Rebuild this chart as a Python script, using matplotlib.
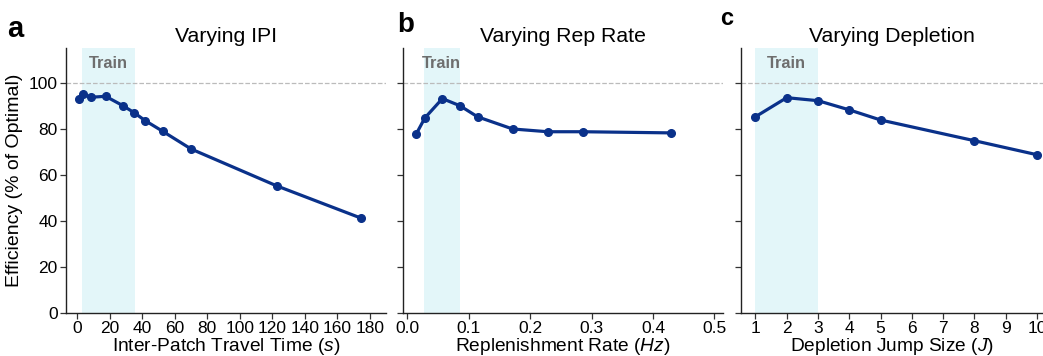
import matplotlib
matplotlib.use("Agg")
import matplotlib.pyplot as plt
import numpy as np

plt.rcParams['font.family'] = ['Liberation Sans', 'DejaVu Sans']
plt.rcParams['mathtext.fontset'] = 'custom'
plt.rcParams['mathtext.it'] = 'Liberation Sans:italic'

# panel a: inter-patch interval
ipi_x = [1.0, 3.3, 8.6, 17.4, 28.1, 34.9, 41.8, 52.5, 70.0, 122.6, 174.8]
ipi_y = [93.0, 95.0, 93.8, 94.2, 90.1, 87.1, 83.6, 79.0, 71.3, 55.3, 41.2]

# panel b: replenishment rate
rep_x = [0.0143, 0.0286, 0.0571, 0.0857, 0.1143, 0.1714, 0.2286, 0.2857, 0.4286]
rep_y = [77.7, 84.8, 93.2, 90.1, 85.3, 80.0, 78.8, 78.8, 78.3]

# panel c: depletion jump size
dep_x = [1, 2, 3, 4, 5, 8, 10]
dep_y = [85.3, 93.6, 92.3, 88.3, 83.9, 74.9, 68.8]

train_ranges = [(3.0, 35.3), (0.0266, 0.0858), (1.0, 3.0)]
titles = ["Varying IPI", "Varying Rep Rate", "Varying Depletion"]
xlabels = ["Inter-Patch Travel Time ($\\mathit{s}$)",
           "Replenishment Rate ($\\mathit{Hz}$)",
           "Depletion Jump Size ($\\mathit{J}$)"]
letters = ["a", "b", "c"]
xlims = [(-7, 190), (-0.007, 0.514), (0.54, 10.19)]
xticks = [np.arange(0, 181, 20), np.arange(0, 0.51, 0.1), np.arange(1, 11, 1)]
xticklabels = [[str(v) for v in range(0, 181, 20)],
               ["0.0", "0.1", "0.2", "0.3", "0.4", "0.5"],
               [str(v) for v in range(1, 11)]]

line_color = "#0a318a"
band_color = "#e3f6f9"

W, H = 1043, 356
fig = plt.figure(figsize=(W / 100, H / 100), dpi=100)
lefts = [66, 403, 741]
widths = [320, 320, 302]
bottom, top = 313, 48
# panel letter placement (pixels: left x, baseline y, size)
letter_pos = [(7, 37, 21), (397, 32, 20), (720, 25, 17)]

data = [(ipi_x, ipi_y), (rep_x, rep_y), (dep_x, dep_y)]
for i in range(3):
    ax = fig.add_axes([lefts[i] / W, (H - bottom) / H, widths[i] / W, (bottom - top) / H])
    lo, hi = train_ranges[i]
    ax.axvspan(lo, hi, color=band_color, lw=0, zorder=0)
    ax.axhline(100, color="#bbbbbb", ls="--", lw=0.9, zorder=1)
    x, y = data[i]
    ax.plot(x, y, color=line_color, lw=2.3, marker="o", ms=5.5, zorder=3)
    ax.text((lo + hi) / 2, 108.5, "Train", ha="center", va="center",
            fontsize=11.8, fontweight="bold", color="#6e6e6e")
    ax.set_xlim(*xlims[i])
    ax.set_ylim(0, 115.2)
    ax.set_xticks(xticks[i])
    ax.set_xticklabels(xticklabels[i])
    ax.set_yticks(np.arange(0, 101, 20))
    if i > 0:
        ax.set_yticklabels([])
    else:
        ax.set_ylabel("Efficiency (% of Optimal)", fontsize=14, labelpad=4)
    ax.set_xlabel(xlabels[i], fontsize=13.8, labelpad=0)
    ax.set_title(titles[i], fontsize=15.3, pad=4.5)
    ax.tick_params(labelsize=12.5, length=4, width=0.9, color="#333333", pad=2)
    for s in ["top", "right"]:
        ax.spines[s].set_visible(False)
    for s in ["left", "bottom"]:
        ax.spines[s].set_linewidth(1.0)
        ax.spines[s].set_color("#222222")
    lx, ly, ls = letter_pos[i]
    fig.text(lx / W, 1 - ly / H, letters[i], fontsize=ls,
             fontweight="bold", ha="left", va="baseline")

fig.savefig("out.png", dpi=100)
